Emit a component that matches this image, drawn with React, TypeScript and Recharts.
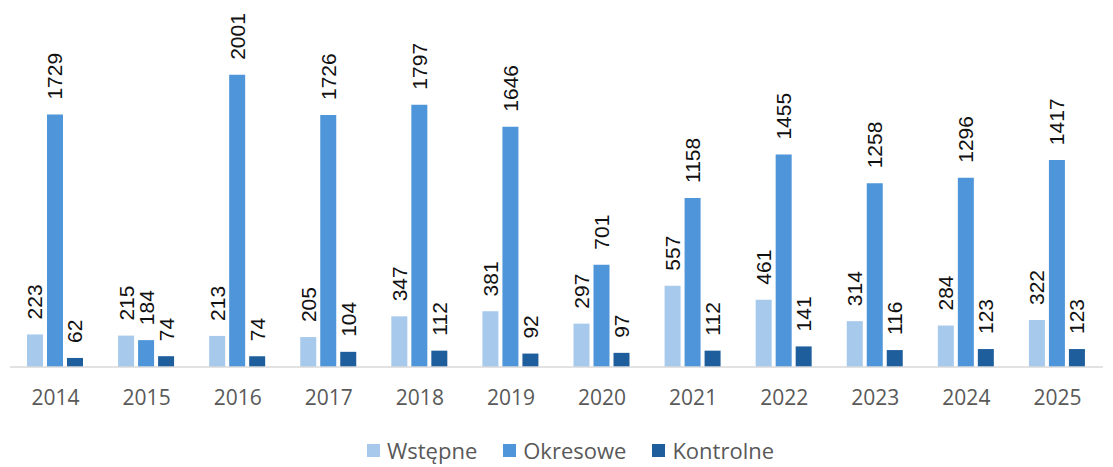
import { BarChart, Bar, XAxis, YAxis, LabelList } from 'recharts'

const years = ['2014', '2015', '2016', '2017', '2018', '2019', '2020', '2021', '2022', '2023', '2024', '2025']
const wstepne = [223, 215, 213, 205, 347, 381, 297, 557, 461, 314, 284, 322]
const okresowe = [1729, 184, 2001, 1726, 1797, 1646, 701, 1158, 1455, 1258, 1296, 1417]
const kontrolne = [62, 74, 74, 104, 112, 92, 97, 112, 141, 116, 123, 123]

const series = [
  { key: 'wstepne', name: 'Wstępne', color: '#A6C9EC' },
  { key: 'okresowe', name: 'Okresowe', color: '#4E95D9' },
  { key: 'kontrolne', name: 'Kontrolne', color: '#1F5E9C' },
]

const data = years.map((year, i) => ({
  year,
  wstepne: wstepne[i],
  okresowe: okresowe[i],
  kontrolne: kontrolne[i],
}))

const textFont = '"Open Sans", "Noto Sans", sans-serif'

function RotatedLabel(props: any) {
  const { x, y, width, value } = props
  const cx = x + width / 2
  const cy = y - 15
  return (
    <text
      x={cx}
      y={cy}
      transform={`rotate(-90, ${cx}, ${cy})`}
      textAnchor="start"
      dominantBaseline="central"
      fontSize={21}
      fontFamily='"Liberation Sans", Arial, sans-serif'
      fill="#111"
    >
      {value}
    </text>
  )
}

export default function App() {
  return (
    <div style={{ position: 'absolute', left: 0, top: 0, width: 1113, height: 467, background: '#fff' }}>
      <BarChart
        width={1113}
        height={417}
        data={data}
        margin={{ top: 2, right: 10, bottom: 0, left: 10 }}
        barCategoryGap={17}
        barGap={4}
      >
        <XAxis
          dataKey="year"
          tickLine={false}
          tickSize={0}
          tickMargin={23}
          axisLine={{ stroke: '#D9D9D9', strokeWidth: 1.5 }}
          tick={{ fontSize: 21, fill: '#595959', fontFamily: textFont }}
          height={50}
          interval={0}
        />
        <YAxis hide domain={[0, 2500]} />
        {series.map((s) => (
          <Bar key={s.key} dataKey={s.key} name={s.name} fill={s.color} isAnimationActive={false}>
            <LabelList dataKey={s.key} content={<RotatedLabel />} />
          </Bar>
        ))}
      </BarChart>
      <div
        style={{
          height: 66,
          display: 'flex',
          justifyContent: 'center',
          alignItems: 'center',
          gap: 26,
          paddingLeft: 28,
          fontFamily: textFont,
          fontSize: 22,
          color: '#595959',
        }}
      >
        {series.map((s) => (
          <div key={s.key} style={{ display: 'flex', alignItems: 'center', gap: 7 }}>
            <span style={{ width: 13, height: 13, background: s.color, display: 'inline-block' }} />
            <span>{s.name}</span>
          </div>
        ))}
      </div>
    </div>
  )
}
